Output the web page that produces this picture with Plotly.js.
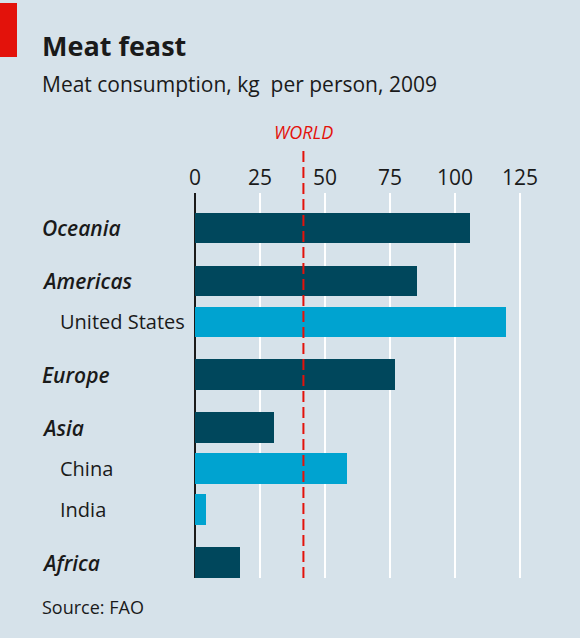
<!DOCTYPE html>
<html>
<head>
<meta charset="utf-8">
<script src="https://cdn.plot.ly/plotly-3.0.1.min.js"></script>
<style>html,body{margin:0;padding:0;background:#d6e2ea;}#chart{width:580px;height:638px;}</style>
</head>
<body>
<div id="chart"></div>
<script>
// ---- data ----
const labels = ['Oceania', 'Americas', 'United States', 'Europe', 'Asia', 'China', 'India', 'Africa'];
const values = [105.8, 85.5, 119.5, 76.9, 30.4, 58.6, 4.2, 17.3];
const isRegion = [true, true, false, true, true, false, false, true];
const worldValue = 41.7;
const tickValues = [0, 25, 50, 75, 100, 125];
const tickLabels = ['0', '25', '50', '75', '100', '125'];
const titleText = 'Meat feast';
const subtitleText = 'Meat consumption, kg\u00a0 per person, 2009';
const sourceText = 'Source: FAO';
const worldLabel = 'WORLD';

// ---- layout helpers ----
const W = 580, H = 638;
const M = {l: 195, r: 45, t: 193, b: 60};
const plotW = W - M.l - M.r, plotH = H - M.t - M.b;
const pxX = px => (px - M.l) / plotW;
const pxY = py => (H - M.b - py) / plotH;

// row positions: each row one unit, extra gap before each region
const pos = [];
let p = 0;
labels.forEach((l, i) => { if (i > 0) p += 1 + (isRegion[i] ? 0.29 : 0); pos.push(p); });

const FONT = '"Open Sans", Lato, sans-serif';
const dark = '#00475c', light = '#00a3d0', red = '#e3120b', ink = '#1a1a1a';

const trace = {
  type: 'bar', orientation: 'h',
  x: values, y: pos,
  width: 0.75,
  marker: {color: isRegion.map(r => r ? dark : light), line: {width: 0}},
  hoverinfo: 'x'
};

const annotations = labels.map((l, i) => ({
  xref: 'paper', yref: 'y', x: pxX(isRegion[i] ? 40 : 58), y: pos[i],
  xanchor: 'left', yanchor: 'middle', showarrow: false,
  text: l,
  font: isRegion[i]
    ? {family: FONT, size: 21, color: ink, weight: 600, style: 'italic'}
    : {family: FONT, size: 20, color: ink}
}));
annotations.push(
  {xref: 'paper', yref: 'paper', x: pxX(40), y: pxY(45), xanchor: 'left', yanchor: 'middle', showarrow: false,
   text: '<b>' + titleText + '</b>', font: {family: FONT, size: 27, color: ink}},
  {xref: 'paper', yref: 'paper', x: pxX(40), y: pxY(84), xanchor: 'left', yanchor: 'middle', showarrow: false,
   text: subtitleText, font: {family: FONT, size: 21, color: ink}},
  {xref: 'paper', yref: 'paper', x: pxX(40), y: pxY(607), xanchor: 'left', yanchor: 'middle', showarrow: false,
   text: sourceText, font: {family: FONT, size: 18, color: ink}},
  {xref: 'x', yref: 'paper', x: worldValue, y: pxY(132), xanchor: 'center', yanchor: 'middle', showarrow: false,
   text: '<i>' + worldLabel + '</i>', font: {family: FONT, size: 18, color: red}}
);

const shapes = [
  {type: 'rect', xref: 'paper', yref: 'paper', x0: pxX(0), x1: pxX(17), y0: pxY(3), y1: pxY(57),
   fillcolor: red, line: {width: 0}, layer: 'above'},
  {type: 'line', xref: 'x', yref: 'paper', x0: worldValue, x1: worldValue, y0: 0, y1: pxY(147),
   line: {color: red, width: 2, dash: '11px,5px'}, layer: 'above'}
];

const layout = {
  width: W, height: H,
  margin: M,
  paper_bgcolor: '#d6e2ea', plot_bgcolor: '#d6e2ea',
  showlegend: false,
  xaxis: {
    side: 'top', range: [0, plotW / 2.6],
    tickvals: tickValues, ticktext: tickLabels,
    showgrid: true, gridcolor: '#ffffff', gridwidth: 2,
    zeroline: true, zerolinecolor: ink, zerolinewidth: 1.5,
    ticks: '', showline: false, ticklabelstandoff: 3,
    tickfont: {family: FONT, size: 21, color: ink},
    fixedrange: true
  },
  yaxis: {
    range: [ (578 - 228) / 41, (193 - 228) / 41 ],
    showticklabels: false, showgrid: false, zeroline: false, ticks: '',
    fixedrange: true
  },
  annotations: annotations,
  shapes: shapes,
  bargap: 0
};

Plotly.newPlot('chart', [trace], layout, {displayModeBar: false, staticPlot: true});
</script>
</body>
</html>
